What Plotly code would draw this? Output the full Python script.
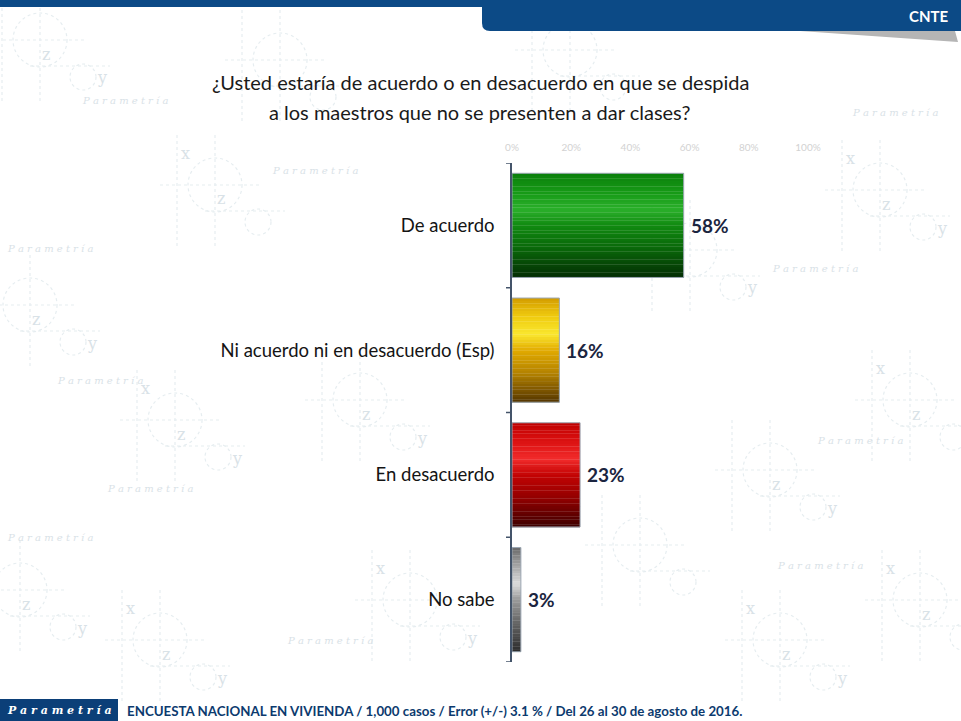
import numpy as np
import plotly.graph_objects as go

# survey data
categories = ["De acuerdo", "Ni acuerdo ni en desacuerdo (Esp)", "En desacuerdo", "No sabe"]
values = [58, 16, 23, 3]
value_labels = ["58%", "16%", "23%", "3%"]
x_ticks = [0, 20, 40, 60, 80, 100]
x_tick_labels = ["0%", "20%", "40%", "60%", "80%", "100%"]

title_lines = ["¿Usted estaría de acuerdo o en desacuerdo en que se despida",
               "a los maestros que no se presenten a dar clases?"]
footer_text = "ENCUESTA NACIONAL EN VIVIENDA / 1,000 casos / Error (+/-) 3.1 % / Del 26 al 30 de agosto de 2016."

W, H = 961, 721
L, R, T, B = 512, 153, 163, 59

def px(x):
    return (x - L) / (W - L - R)

def py(y):
    return 1 - (y - T) / (H - T - B)

def note(x, y, text, size, color, family="Lato", anchor="center", style="normal", **kw):
    # annotation placed in window pixels
    fig.add_annotation(xref="paper", yref="paper", x=px(x), y=py(y), text=text, showarrow=False,
                       xanchor=anchor, yanchor="middle",
                       font=dict(family=family, size=size, color=color, style=style), **kw)

# vertical gradient stops (top -> bottom) per bar
stops = [0.0, 0.18, 0.35, 0.5, 0.72, 1.0]
gradients = [
    ["#0b7f0b", "#179a17", "#2bb02b", "#118a11", "#0a680a", "#042e04"],
    ["#d39c00", "#f0cc10", "#fae830", "#e2ab00", "#b58300", "#553600"],
    ["#bf0000", "#dc1212", "#f22c2c", "#c40404", "#930000", "#3e0000"],
    ["#6a6a6a", "#a8a8a8", "#dcdcdc", "#9a9a9a", "#666666", "#2c2c2c"],
]

def hex2rgb(h):
    h = h.lstrip("#")
    return np.array([int(h[i:i + 2], 16) for i in (0, 2, 4)], dtype=float)

def grad_color(cols, t):
    arr = np.array([hex2rgb(c) for c in cols])
    r, g, b = (np.interp(t, stops, arr[:, i]) for i in range(3))
    return f"rgb({int(r)},{int(g)},{int(b)})"

# areas where watermark letters must not sit (header, bars, labels, title, footer)
keep_clear = [(0, 0, 961, 36), (505, 165, 740, 662), (205, 60, 760, 130), (200, 210, 500, 245),
              (200, 336, 500, 370), (360, 462, 500, 496), (420, 588, 500, 622), (0, 690, 961, 721)]

def clear(x, y, half_w=8):
    if x - half_w < 0 or x + half_w > W:
        return False
    return not any(x0 - half_w <= x <= x1 + half_w and y0 - 8 <= y <= y1 + 8
                   for x0, y0, x1, y1 in keep_clear)

fig = go.Figure()

# faint watermark pattern
wm = "#e6edf0"
wm_txt = "#d9e2e7"
units = [(30, 305), (20, 590), (215, 185), (175, 420), (160, 640), (360, 400), (410, 600),
         (570, 50), (690, 250), (770, 470), (780, 640), (880, 190), (910, 400), (920, 600),
         (280, 60), (40, 40), (640, 545)]
for ux, uy in units:
    dot = dict(color=wm, width=1.2, dash="dot")
    fig.add_shape(type="circle", xref="paper", yref="paper", x0=px(ux - 27), x1=px(ux + 27),
                  y0=py(uy + 27), y1=py(uy - 27), line=dot, layer="below")
    fig.add_shape(type="circle", xref="paper", yref="paper", x0=px(ux + 30), x1=px(ux + 56),
                  y0=py(uy + 50), y1=py(uy + 24), line=dot, layer="below")
    fig.add_shape(type="line", xref="paper", yref="paper", x0=px(ux - 55), x1=px(ux + 45),
                  y0=py(uy), y1=py(uy), line=dot, layer="below")
    fig.add_shape(type="line", xref="paper", yref="paper", x0=px(ux - 10), x1=px(ux + 70),
                  y0=py(uy + 26), y1=py(uy + 26), line=dot, layer="below")
    for vx in (ux - 38, ux):
        fig.add_shape(type="line", xref="paper", yref="paper", x0=px(vx), x1=px(vx),
                      y0=py(uy - 50), y1=py(uy + 62), line=dot, layer="below")
    for ch, dx, dy in [("x", -30, -32), ("z", 6, 14), ("y", 62, 38)]:
        if clear(ux + dx, uy + dy):
            note(ux + dx, uy + dy, ch, 16, wm_txt, family="DejaVu Serif")

wm_words = [(395, 40), (125, 100), (160, 228), (600, 157), (895, 113), (315, 170), (815, 268),
            (50, 248), (860, 440), (150, 488), (100, 380), (760, 423), (820, 565),
            (330, 640), (885, 686), (660, 292), (50, 537)]
for wx, wy in wm_words:
    if clear(wx, wy, half_w=45):
        note(wx, wy, "P a r a m e t r í a", 10, wm_txt, family="DejaVu Serif", style="italic")

# gradient bars built from thin overlaid bands
bar_w = 0.835
n_bands = 40
ypos = list(range(len(categories)))
for k in range(n_bands):
    t = (k + 0.5) / n_bands
    fig.add_trace(go.Bar(
        x=values, y=ypos, orientation="h",
        width=bar_w / n_bands * 1.1,
        offset=-bar_w / 2 + k * bar_w / n_bands,
        marker=dict(color=[grad_color(g, t) for g in gradients], line=dict(width=0)),
        hoverinfo="skip", showlegend=False,
    ))

# thin outline around each bar
fig.add_trace(go.Bar(
    x=values, y=ypos, orientation="h", width=bar_w,
    marker=dict(color="rgba(0,0,0,0)", line=dict(color="#9aa6b2", width=1)),
    hoverinfo="skip", showlegend=False,
))

for v, lab, yp in zip(values, value_labels, ypos):
    fig.add_annotation(x=v, y=yp, text=f"<b>{lab}</b>", xanchor="left", xshift=5,
                       showarrow=False, font=dict(family="Lato", size=19, color="#1b2540"))

fig.update_layout(
    width=W, height=H,
    margin=dict(l=L, r=R, t=T, b=B),
    paper_bgcolor="white", plot_bgcolor="rgba(0,0,0,0)",
    barmode="overlay",
    font=dict(family="Lato", color="#1a1a1a"),
)
fig.update_xaxes(
    range=[0, 100], side="top", tickvals=x_ticks, ticktext=x_tick_labels,
    showgrid=False, zeroline=False, showline=False, ticks="",
    tickfont=dict(size=10, color="#d2d2d2"), ticklabelstandoff=9,
)
fig.update_yaxes(
    range=[3.5, -0.5], tickvals=ypos, ticktext=categories,
    showgrid=False, zeroline=False, showline=True, linecolor="#44546a", linewidth=1.5,
    ticks="", tickfont=dict(size=18.5, color="#141414"), ticklabelstandoff=12,
)
# boundary tick marks on the axis
for b_ in [i - 0.5 for i in range(len(categories) + 1)]:
    fig.add_shape(type="line", xref="paper", yref="y", x0=px(506), x1=px(512), y0=b_, y1=b_,
                  line=dict(color="#44546a", width=1.5))

# title, one line at a time
for line, ly in zip(title_lines, [82, 112]):
    note(480, ly, line, 20, "#1a1a1a")

# header strip and CNTE tab
navy = "#0c4a86"
fig.add_shape(type="rect", xref="paper", yref="paper", x0=px(0), x1=px(961), y0=py(7), y1=py(0),
              fillcolor=navy, line=dict(width=0), layer="above")
fig.add_shape(type="path", xref="paper", yref="paper",
              path=f"M {px(800)},{py(31)} L {px(955)},{py(31)} L {px(958)},{py(42)} Z",
              fillcolor="#b5b5b5", line=dict(width=0))
fig.add_shape(type="path", xref="paper", yref="paper",
              path=(f"M {px(482)},{py(0)} L {px(961)},{py(0)} L {px(961)},{py(31)} "
                    f"L {px(490)},{py(31)} Q {px(482)},{py(31)} {px(482)},{py(23)} Z"),
              fillcolor=navy, line=dict(width=0))
note(950, 16, "<b>CNTE</b>", 15, "white", anchor="right")

# footer
fig.add_shape(type="rect", xref="paper", yref="paper", x0=px(0), x1=px(118), y0=py(721), y1=py(699),
              fillcolor="#0b3f78", line=dict(width=0))
note(59, 710, "<b>P a r a m e t r í a</b>", 11, "white", family="DejaVu Serif", style="italic")
note(125, 711, f"<b>{footer_text}</b>", 13.3, "#0c3a6e", anchor="left")

# the page body has a default margin; drop it so the figure sits at the window corner
fig.write_html("out.html", config={"displayModeBar": False},
               post_script="document.body.style.margin='0';")
